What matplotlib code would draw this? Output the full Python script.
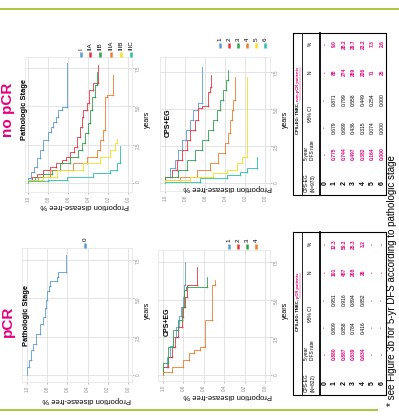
import matplotlib.pyplot as plt
import numpy as np

plt.rcParams['font.family'] = ['Liberation Sans', 'DejaVu Sans']

W, H = 399, 418
PINK = '#e5007d'
RULE = '#a6c83c'
GRID = '#d9d9d9'
TICK = '#8a8a8a'

# legend groups
stage_names = ["I", "IIA", "IIB", "IIIA", "IIIB", "IIIC"]
score_names = ["1", "2", "3", "4", "5", "6"]
pcr_stage_names = ["0"]
pcr_score_names = ["1", "2", "3", "4"]
group_colors = ['#5b9bd5', '#e8343f', '#2ca24a', '#f07c2c', '#f2e21c', '#24c3a5']

# no pCR by pathologic stage: event times (years) and proportion disease-free
np_I_t = [0, 0.3, 0.7, 1.07, 1.6, 2.15, 2.8, 3.3, 3.67, 4.0, 4.33, 4.76, 4.98, 7.8]
np_I_s = [1.0, 0.97, 0.94, 0.913, 0.88, 0.847, 0.797, 0.77, 0.747, 0.72, 0.697, 0.663, 0.613, 0.613]
np_IIA_t = [0, 0.2, 0.41, 0.6, 0.85, 1.05, 1.28, 1.5, 1.72, 2.0, 2.37, 3.02, 3.67, 4.33, 4.76, 5.2, 6.07, 6.5, 7.7]
np_IIA_s = [1.0, 0.96, 0.913, 0.85, 0.78, 0.72, 0.663, 0.62, 0.58, 0.545, 0.513, 0.48, 0.463, 0.447, 0.407, 0.387, 0.347, 0.3, 0.3]
np_IIB_t = [0, 0.2, 0.41, 0.6, 0.85, 1.28, 1.72, 2.15, 2.59, 3.24, 3.89, 4.76, 5.63, 6.4, 7.26]
np_IIB_s = [1.0, 0.93, 0.847, 0.76, 0.68, 0.58, 0.497, 0.463, 0.43, 0.397, 0.38, 0.363, 0.33, 0.313, 0.313]
np_IIIA_t = [0, 0.2, 0.41, 0.85, 1.28, 1.72, 2.15, 2.8, 3.45, 5.63, 5.76, 7.06]
np_IIIA_s = [1.0, 0.9, 0.78, 0.547, 0.413, 0.313, 0.28, 0.247, 0.23, 0.213, 0.147, 0.147]
np_IIIB_t = [0, 0.2, 0.41, 0.85, 1.28, 1.72, 2.15, 2.59, 2.9]
np_IIIB_s = [1.0, 0.85, 0.713, 0.447, 0.28, 0.18, 0.13, 0.113, 0.113]
np_IIIC_t = [0, 0.1, 0.2, 0.41, 0.63, 0.85, 1.28, 2.4]
np_IIIC_s = [1.0, 0.8, 0.613, 0.347, 0.18, 0.113, 0.08, 0.08]

# no pCR by CPS+EG score
np_s1_t = [0, 0.43, 1.0, 1.55, 2.2, 2.9, 3.6, 4.26, 4.93, 5.38, 7.86]
np_s1_s = [1.0, 0.95, 0.9, 0.867, 0.83, 0.79, 0.75, 0.717, 0.667, 0.633, 0.633]
np_s2_t = [0, 0.43, 0.88, 1.55, 2.23, 2.9, 3.58, 4.26, 5.05, 5.2, 6.17, 6.5, 7.3]
np_s2_s = [1.0, 0.933, 0.883, 0.833, 0.783, 0.75, 0.7, 0.667, 0.633, 0.567, 0.55, 0.543, 0.543]
np_s3_t = [0, 0.43, 0.88, 1.55, 2.23, 2.9, 3.58, 4.26, 4.93, 5.61, 6.28, 6.96, 7.64]
np_s3_s = [1.0, 0.867, 0.783, 0.7, 0.633, 0.567, 0.517, 0.477, 0.45, 0.417, 0.39, 0.367, 0.367]
np_s4_t = [0, 0.2, 0.43, 0.88, 1.33, 2.0, 2.68, 3.36, 4.26, 4.93, 5.61, 7.18]
np_s4_s = [1.0, 0.85, 0.683, 0.55, 0.467, 0.4, 0.367, 0.35, 0.333, 0.317, 0.3, 0.3]
np_s5_t = [0, 0.2, 0.43, 0.65, 0.88, 1.33, 1.78, 7.18]
np_s5_s = [1.0, 0.75, 0.517, 0.383, 0.283, 0.233, 0.183, 0.183]
np_s6_t = [0, 0.09, 0.31, 0.54, 0.76, 0.99, 1.78]
np_s6_s = [1.0, 0.65, 0.383, 0.25, 0.183, 0.083, 0.083]

# pCR, stage 0
p_0_t = [0, 0.5, 1.0, 1.6, 2.0, 2.7, 3.3, 3.8, 4.4, 4.9, 5.5, 5.8, 6.1, 6.4, 6.7, 7.8]
p_0_s = [1.0, 0.98, 0.96, 0.937, 0.91, 0.87, 0.845, 0.82, 0.81, 0.8, 0.78, 0.77, 0.7, 0.69, 0.61, 0.61]

# pCR by CPS+EG score
p_s1_t = [0, 0.5, 1.2, 1.9, 2.5, 3.2, 3.9, 4.5, 5.2, 6.0, 7.5]
p_s1_s = [1.0, 0.96, 0.93, 0.9, 0.87, 0.84, 0.82, 0.8, 0.79, 0.78, 0.78]
p_s2_t = [0, 0.55, 1.22, 1.88, 2.54, 3.2, 3.87, 4.53, 5.2, 5.86, 5.97, 7.19]
p_s2_s = [1.0, 0.948, 0.915, 0.882, 0.85, 0.817, 0.8, 0.784, 0.768, 0.762, 0.67, 0.67]
p_s3_t = [0, 0.77, 1.88, 2.99, 3.65, 4.53, 5.64, 5.86, 6.52]
p_s3_s = [1.0, 0.948, 0.9, 0.85, 0.817, 0.794, 0.775, 0.572, 0.572]
p_s4_t = [0, 0.22, 0.55, 1.0, 1.44, 1.66, 1.88, 3.65, 5.97, 6.3]
p_s4_s = [1.0, 0.915, 0.8, 0.75, 0.7, 0.637, 0.588, 0.523, 0.49, 0.49]

prop_ticks = [1.0, 0.8, 0.6, 0.4, 0.2, 0.0]
prop_labels = ["1.0", "0.8", "0.6", "0.4", "0.2", "0.0"]
year_ticks = [0, 2.5, 5.0, 7.5]
year_labels = ["0", "2.5", "5.0", "7.5"]

# 5-year DFS tables by CPS+EG score
score_rows = [0, 1, 2, 3, 4, 5, 6]
np_rate = [None, 0.775, 0.744, 0.497, 0.382, 0.164, 0.000]
np_lo = [None, 0.679, 0.689, 0.436, 0.315, 0.074, 0.000]
np_hi = [None, 0.871, 0.799, 0.558, 0.449, 0.254, 0.000]
np_n = [None, 88, 274, 289, 226, 71, 25]
np_pct = [None, 9.0, 28.2, 29.7, 23.2, 7.3, 2.6]

p_rate = [None, 0.880, 0.887, 0.839, 0.634, None, None]
p_lo = [None, 0.809, 0.858, 0.784, 0.416, None, None]
p_hi = [None, 0.951, 0.916, 0.894, 0.852, None, None]
p_n = [None, 101, 487, 208, 26, None, None]
p_pct = [None, 12.3, 59.2, 25.3, 3.2, None, None]

fig = plt.figure(figsize=(W / 100, H / 100), dpi=100)
# full-figure overlay in pixel units, kept above the plot panels
ax0 = fig.add_axes([0, 0, 1, 1])
ax0.set_xlim(0, W)
ax0.set_ylim(H, 0)
ax0.axis('off')
ax0.set_zorder(10)


def px_axes(x0, y0, x1, y1):
    return fig.add_axes([x0 / W, 1 - y1 / H, (x1 - x0) / W, (y1 - y0) / H])


def km_panel(box, gx, gy, curves, colors, title, title_pos, title_size, ylab_pos):
    x0, y0, x1, y1 = box
    g1, g0 = gx      # pixel columns of proportion 1.0 and 0.0
    t0, t75 = gy     # pixel rows of year 0 and year 7.5
    ax = px_axes(*box)
    ax.set_xlim((g0 - x0) / (g0 - g1), (g0 - x1) / (g0 - g1))
    ax.set_ylim((t0 - y1) / (t0 - t75) * 7.5, (t0 - y0) / (t0 - t75) * 7.5)
    ax.set_xticks(prop_ticks)
    ax.set_xticklabels(prop_labels)
    ax.set_yticks(year_ticks)
    ax.set_yticklabels(year_labels)
    ax.yaxis.tick_right()
    ax.tick_params(labelsize=3.3, colors=TICK, length=1.5, width=0.4, pad=1)
    ax.tick_params(axis='x', labelrotation=90)
    ax.tick_params(axis='y', labelrotation=90)
    ax.grid(color=GRID, lw=0.5)
    ax.set_axisbelow(True)
    for sp in ax.spines.values():
        sp.set_color('#e3e3e3')
        sp.set_linewidth(0.5)
    for (t, s), c in zip(curves, colors):
        xs, ys = [s[0]], [t[0]]
        for i in range(1, len(t)):
            xs += [s[i - 1], s[i]]
            ys += [t[i], t[i]]
        ax.plot(xs, ys, color=c, lw=0.6)
        ax.plot(s[1:-1], t[1:-1], '+', color=c, ms=1.8, mew=0.4)
    # panel title and axis labels
    ax0.text(title_pos[0], title_pos[1], title, rotation=90, ha='center',
             va='center', fontsize=title_size, fontweight='bold')
    ax0.text(x1 + 15, (y0 + y1) / 2 - 5, "years", rotation=90, ha='center',
             va='center', fontsize=5)
    ax0.text(ylab_pos[0], ylab_pos[1], "Proportion disease-free %", rotation=180,
             ha='center', va='center', fontsize=5.5)
    return ax


def legend(xs, y_mark, names, colors):
    for x, name, c in zip(xs, names, colors):
        ax0.plot([x, x], [y_mark, y_mark + 5], color=c, lw=1.8, solid_capstyle='butt')
        ax0.text(x, y_mark - 2, name, rotation=90, ha='center', va='bottom',
                 fontsize=4.5)


# no pCR panels
km_panel((25, 57, 132, 192), (28, 128), (183, 68),
         [(np_I_t, np_I_s), (np_IIA_t, np_IIA_s), (np_IIB_t, np_IIB_s),
          (np_IIIA_t, np_IIIA_s), (np_IIIB_t, np_IIIB_s), (np_IIIC_t, np_IIIC_s)],
         group_colors, "Pathologic Stage", (25, 110), 5.4, (85, 205))
legend([81, 90, 100, 111, 121, 131], 52, stage_names, group_colors)

km_panel((160, 57, 270, 191), (165, 265), (183, 72),
         [(np_s1_t, np_s1_s), (np_s2_t, np_s2_s), (np_s3_t, np_s3_s),
          (np_s4_t, np_s4_s), (np_s5_t, np_s5_s), (np_s6_t, np_s6_s)],
         group_colors, "CPS+EG", (168, 123), 5, (228, 187))
legend([220, 229, 238, 247, 256, 265], 43, score_names, group_colors)

# pCR panels
km_panel((22, 248, 132, 382), (27, 128), (375, 260),
         [(p_0_t, p_0_s)], group_colors, "Pathologic Stage", (26, 316), 5.4, (87, 400))
legend([85], 243, pcr_stage_names, group_colors)

km_panel((158, 250, 270, 381), (163, 265), (375, 262),
         [(p_s1_t, p_s1_s), (p_s2_t, p_s2_s), (p_s3_t, p_s3_s), (p_s4_t, p_s4_s)],
         group_colors, "CPS+EG", (167, 322), 5, (228, 395))
legend([229, 238, 247, 256], 244, pcr_score_names, group_colors)

# column headers
ax0.text(8, 110, "no pCR", rotation=90, ha='center', va='center', fontsize=11,
         fontweight='bold', color=PINK)
ax0.text(8, 321, "pCR", rotation=90, ha='center', va='center', fontsize=11,
         fontweight='bold', color=PINK)

# green rules
ax0.plot([0, W], [9, 9], color=RULE, lw=1.4)
ax0.plot([0, 377], [410, 410], color=RULE, lw=1.4)


def fmt(v, spec):
    return "-" if v is None else format(v, spec)


def dfs_table(top, bottom, n_total, pink_part, split, rate, lo, hi, n, pct):
    x0, x1 = 293, 386
    ax0.plot([x0, x1, x1, x0, x0], [top, top, bottom, bottom, top], color='black', lw=0.8)
    ax0.plot([302, 302], [top, bottom], color='black', lw=0.6)
    ax0.plot([320, 320], [top, bottom], color='black', lw=1.3)
    # title, black part below the split and pink part above it
    ax0.text(297.5, split, "CPS+EG: TNBC, ", rotation=90, rotation_mode='anchor',
             ha='right', va='center', fontsize=3, fontweight='bold')
    pt = ax0.text(297.5, split, pink_part, rotation=90, rotation_mode='anchor',
                  ha='left', va='center', fontsize=3, fontweight='bold', color=PINK)
    fig.canvas.draw()
    bb = pt.get_window_extent().transformed(ax0.transData.inverted())
    ax0.plot([bb.x1 + 0.2, bb.x1 + 0.2], [bb.y0, bb.y1], color=PINK, lw=0.3)
    # header row
    hs = dict(rotation=90, rotation_mode='anchor', va='center', fontsize=3.5)
    ax0.text(306, bottom - 3, "CPS-EG", ha='left', **hs)
    ax0.text(313, bottom - 3, "(N=%d)" % n_total, ha='left', **hs)
    ax0.text(306, bottom - 35, "5-year", ha='left', **hs)
    ax0.text(313, bottom - 35, "DFS rate", ha='left', **hs)
    ax0.text(310, bottom - 81, "95% CI", ha='center', **hs)
    ax0.text(310, bottom - 123, "N", ha='center', **hs)
    ax0.text(310, bottom - 151, "%", ha='center', **hs)
    cs = dict(rotation=90, ha='center', va='center', fontsize=3.6)
    for i, r in enumerate(score_rows):
        x = 325 + 9.5 * i
        ax0.text(x, bottom - 12, str(r), rotation=90, ha='center', va='center',
                 fontsize=5, fontweight='bold')
        ax0.text(x, bottom - 41, fmt(rate[i], '.3f'), color=PINK, fontweight='bold', **cs)
        ax0.text(x, bottom - 67.5, fmt(lo[i], '.3f'), **cs)
        ax0.text(x, bottom - 95, fmt(hi[i], '.3f'), **cs)
        ax0.text(x, bottom - 123, fmt(n[i], 'd'), color=PINK, fontweight='bold', **cs)
        ax0.text(x, bottom - 151, fmt(pct[i], '.1f'), color=PINK, fontweight='bold', **cs)


dfs_table(33, 195, 973, "non-pCR patients", 101, np_rate, np_lo, np_hi, np_n, np_pct)
dfs_table(232, 395, 822, "pCR patients", 298, p_rate, p_lo, p_hi, p_n, p_pct)

ax0.text(392, 406, "* see Figure 3b for 5-yr DFS according to pathologic stage",
         rotation=90, rotation_mode='anchor', ha='left', va='center', fontsize=7)

fig.savefig("out.png", dpi=100)
